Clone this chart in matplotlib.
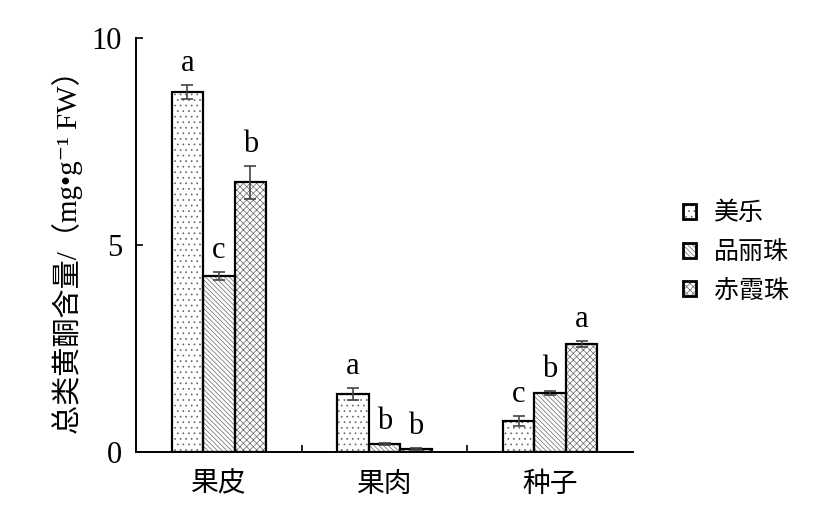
import matplotlib
matplotlib.use("Agg")
import matplotlib.pyplot as plt
import numpy as np
from matplotlib.patches import Patch, Rectangle
from matplotlib.legend_handler import HandlerPatch

plt.rcParams['hatch.linewidth'] = 0.5
plt.rcParams['font.family'] = ['Liberation Serif', 'Noto Sans CJK SC', 'DejaVu Sans']

categories = ['果皮', '果肉', '种子']
series = ['美乐', '品丽珠', '赤霞珠']
values = {
    '美乐':   [8.70, 1.40, 0.75],
    '品丽珠': [4.25, 0.19, 1.43],
    '赤霞珠': [6.52, 0.07, 2.61],
}
errors = {
    '美乐':   [0.17, 0.15, 0.13],
    '品丽珠': [0.10, 0.03, 0.05],
    '赤霞珠': [0.40, 0.03, 0.07],
}
letters = {
    '美乐':   ['a', 'a', 'c'],
    '品丽珠': ['c', 'b', 'b'],
    '赤霞珠': ['b', 'b', 'a'],
}
hatches = ['...', '\\\\\\\\\\\\\\', 'xxxxx']
yticks = [0, 5, 10]

fig = plt.figure(figsize=(8.31, 5.22), dpi=100)
ax = fig.add_axes([136/831, (522-452)/522, (633-136)/831, (452-38)/522])

x = np.arange(len(categories))
w = 0.19
for i, s in enumerate(series):
    xs = x + (i - 1) * w
    ax.bar(xs, values[s], width=w, facecolor='white', edgecolor='#666666',
           linewidth=0, hatch=hatches[i], zorder=2)
    ax.bar(xs, values[s], width=w, facecolor='none', edgecolor='black',
           linewidth=1.6, zorder=2.5)
    ax.errorbar(xs, values[s], yerr=errors[s], fmt='none', ecolor='#444444',
                elinewidth=1.2, capsize=4.5, capthick=1.2, zorder=3)
    for xi, v, e, t in zip(xs, values[s], errors[s], letters[s]):
        ax.annotate(t, (xi, v + e), xytext=(0, 5), textcoords='offset points',
                    ha='center', va='bottom', fontsize=22,
                    family='Liberation Serif')

# legend
class TwoLayer(HandlerPatch):
    def create_artists(self, legend, orig_handle, xdescent, ydescent, width, height, fontsize, trans):
        r1 = Rectangle((-xdescent, -ydescent), width, height, facecolor='white',
                       edgecolor='#666666', linewidth=0, hatch=orig_handle.get_hatch(),
                       transform=trans)
        r2 = Rectangle((-xdescent, -ydescent), width, height, facecolor='none',
                       edgecolor='black', linewidth=2.0, transform=trans)
        return [r1, r2]

handles = [Patch(facecolor='white', edgecolor='black', hatch=hatches[i]) for i in range(3)]
leg = fig.legend(handles, series, loc='upper left', bbox_to_anchor=(660/831, 1 - 178/522),
                 frameon=False, handlelength=0.55, handleheight=0.55, handletextpad=0.7,
                 labelspacing=0.5, prop={'family': 'Noto Sans CJK SC', 'size': 18},
                 handler_map={Patch: TwoLayer()})

ax.set_xlim(-0.5, 2.5)
ax.set_ylim(0, 10)
ax.set_yticks(yticks)
ax.set_yticklabels([str(t) for t in yticks], fontsize=22, family='Liberation Serif')
ax.set_xticks(x)
ax.set_xticklabels(categories, fontsize=20, family='Noto Sans CJK SC')
ax.tick_params(axis='x', length=0, pad=12)
ax.set_xticks([0.5, 1.5], minor=True)
ax.tick_params(axis='x', which='minor', direction='in', length=5, width=1.2)
ax.tick_params(axis='y', direction='in', length=5, width=1.2, pad=10)
for sp in ['top', 'right']:
    ax.spines[sp].set_visible(False)
for sp in ['left', 'bottom']:
    ax.spines[sp].set_linewidth(1.4)

ax.set_ylabel('总类黄酮含量/（mg•g⁻¹ FW）', fontsize=21,
              family=['Liberation Serif', 'Noto Sans CJK SC', 'DejaVu Sans'], labelpad=6)

fig.savefig('out.png', dpi=100)
